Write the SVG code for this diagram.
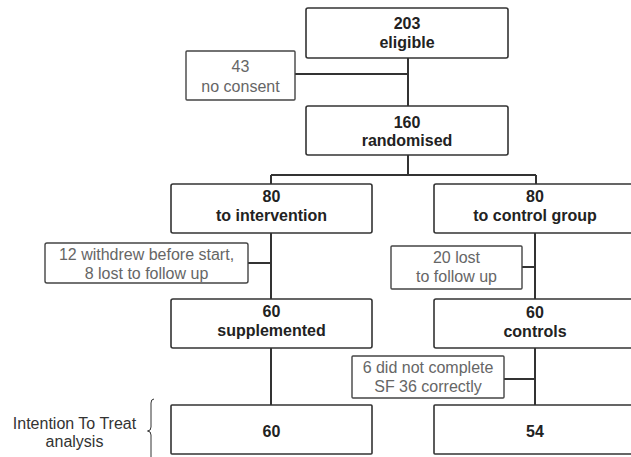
<svg xmlns="http://www.w3.org/2000/svg" width="631" height="457" viewBox="0 0 631 457">
<style>
.box{fill:#fff;stroke:#333;stroke-width:1.6}
.gbox{fill:#fff;stroke:#444;stroke-width:1.4}
.b{font-family:"Liberation Sans",Arial,sans-serif;font-size:16px;font-weight:bold;fill:#222;text-anchor:middle}
.g{font-family:"Liberation Sans",Arial,sans-serif;font-size:16px;fill:#666;text-anchor:middle}
.n{font-family:"Liberation Sans",Arial,sans-serif;font-size:16px;fill:#333;text-anchor:middle}
.ln{fill:none;stroke:#333;stroke-width:2}
</style>
<g id="connectors">
<path class="ln" d="M408 58V106M295 74H408"/>
<path class="ln" d="M408 155V175M271 175H536M271 175V184M536 175V184"/>
<path class="ln" d="M271 233V299M248 263H271"/>
<path class="ln" d="M535 233V299M522 267H535"/>
<path class="ln" d="M271 348V405"/>
<path class="ln" d="M535 348V405M504 379H535"/>
</g>
<g id="eligible"><rect class="box" x="306" y="8" width="202" height="50" rx="2"/><text class="b" x="407" y="29">203</text><text class="b" x="407" y="48">eligible</text></g>
<g id="noconsent"><rect class="gbox" x="186" y="51" width="109" height="49" rx="1"/><text class="g" x="240.5" y="72">43</text><text class="g" x="240.5" y="91.5">no consent</text></g>
<g id="randomised"><rect class="box" x="306" y="106" width="202" height="49" rx="2"/><text class="b" x="407" y="128">160</text><text class="b" x="407" y="146">randomised</text></g>
<g id="intervention"><rect class="box" x="171" y="184" width="201" height="49" rx="2"/><text class="b" x="271.5" y="202">80</text><text class="b" x="271.5" y="220.5">to intervention</text></g>
<g id="controlgroup"><rect class="box" x="434" y="184" width="202" height="49" rx="2"/><text class="b" x="535" y="202">80</text><text class="b" x="535" y="220.5">to control group</text></g>
<g id="withdrew"><rect class="gbox" x="45" y="243" width="203" height="40" rx="2"/><text class="g" x="146.5" y="260">12 withdrew before start,</text><text class="g" x="146.5" y="279">8 lost to follow up</text></g>
<g id="lost20"><rect class="gbox" x="391" y="246" width="131" height="43" rx="1"/><text class="g" x="456.5" y="263">20 lost</text><text class="g" x="456.5" y="282">to follow up</text></g>
<g id="supplemented"><rect class="box" x="171" y="299" width="201" height="49" rx="2"/><text class="b" x="271.5" y="317">60</text><text class="b" x="271.5" y="336">supplemented</text></g>
<g id="controls"><rect class="box" x="434" y="299" width="202" height="49" rx="2"/><text class="b" x="535" y="317.5">60</text><text class="b" x="535" y="337">controls</text></g>
<g id="notcomplete"><rect class="gbox" x="352" y="356" width="152" height="42" rx="1"/><text class="g" x="428" y="372.5">6 did not complete</text><text class="g" x="428" y="392">SF 36 correctly</text></g>
<g id="itt60"><rect class="box" x="171" y="405" width="201" height="49" rx="1"/><text class="b" x="271.5" y="437">60</text></g>
<g id="itt54"><rect class="box" x="434" y="405" width="202" height="49" rx="1"/><text class="b" x="535" y="437">54</text></g>
<g id="ittlabel"><text class="n" x="74.5" y="429">Intention To Treat</text><text class="n" x="74.5" y="447">analysis</text>
<path d="M154 399Q151 399 151 403V427Q151 431 147.5 431Q151 431 151 435V460" fill="none" stroke="#333" stroke-width="1"/></g>
</svg>
